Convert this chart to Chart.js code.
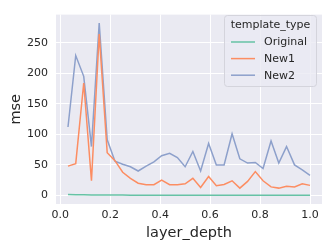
<!DOCTYPE html>
<html>
<head>
<meta charset="utf-8">
<script src="https://cdn.jsdelivr.net/npm/chart.js@4"></script>
<style>
  html, body { margin: 0; padding: 0; background: #fff; }
  #wrap { width: 332px; height: 249px; }
</style>
</head>
<body>
<div id="wrap"><canvas id="myChart" width="332" height="249"></canvas></div>
<script>
// layer depth of each sampled layer
const depth = [0.031, 0.062, 0.094, 0.125, 0.156, 0.188, 0.219, 0.25, 0.281, 0.312, 0.344, 0.375,
    0.406, 0.438, 0.469, 0.5, 0.531, 0.562, 0.594, 0.625, 0.656, 0.688, 0.719, 0.75,
    0.781, 0.812, 0.844, 0.875, 0.906, 0.938, 0.969, 1.0];

const original = [1.4, 1.2, 1.0, 0.9, 0.8, 0.7, 0.6, 0.6, 0.5, 0.5, 0.5, 0.5,
    0.5, 0.5, 0.5, 0.5, 0.5, 0.5, 0.5, 0.5, 0.5, 0.5, 0.5, 0.5,
    0.5, 0.5, 0.5, 0.5, 0.5, 0.5, 0.5, 0.5];
const new1 = [48, 52, 184, 24, 264, 70, 57, 38, 28, 20, 17.5, 17.5,
    25, 17.5, 17.5, 19, 28, 13, 31, 16, 18, 24, 12, 23,
    39, 24, 14, 12, 15, 14, 19, 16.5];
const new2 = [112, 229, 195, 80, 282, 91, 56, 51, 47, 40, 48, 55,
    65, 69, 62, 47, 72, 40, 85, 50, 50, 101, 60, 53,
    54, 44, 89, 53, 80, 50, 42, 33];

const xTicks = [0.0, 0.2, 0.4, 0.6, 0.8, 1.0];
const yTicks = [0, 50, 100, 150, 200, 250];

const font = 'DejaVu Sans';
const textColor = '#262626';

const pts = arr => arr.map((v, i) => ({ x: depth[i], y: v }));

// grey plot background (seaborn darkgrid)
const bgPlugin = {
    id: 'bg',
    beforeDraw(chart) {
        const { ctx, chartArea: a } = chart;
        ctx.save();
        ctx.fillStyle = '#eaeaf2';
        ctx.fillRect(a.left, a.top, a.right - a.left, a.bottom - a.top);
        ctx.restore();
    }
};

// legend box in the top right corner of the plot
const legendPlugin = {
    id: 'boxLegend',
    afterDraw(chart) {
        const ctx = chart.ctx;
        const x0 = 224.5, y0 = 15.5, w = 92, h = 71;
        ctx.save();
        ctx.beginPath();
        ctx.roundRect(x0, y0, w, h, 3);
        ctx.fillStyle = 'rgba(234,234,242,0.8)';
        ctx.fill();
        ctx.strokeStyle = '#d4d4dc';
        ctx.lineWidth = 1;
        ctx.stroke();
        ctx.font = '11px ' + font;
        ctx.fillStyle = textColor;
        ctx.textBaseline = 'middle';
        ctx.textAlign = 'center';
        ctx.fillText('template_type', x0 + w / 2, 25);
        ctx.textAlign = 'left';
        chart.data.datasets.forEach((ds, i) => {
            const y = 42 + i * 16.6;
            ctx.beginPath();
            ctx.moveTo(231, y);
            ctx.lineTo(255, y);
            ctx.strokeStyle = ds.borderColor;
            ctx.lineWidth = 1.5;
            ctx.stroke();
            ctx.fillText(ds.label, 264, y + 0.5);
        });
        ctx.restore();
    }
};

const ctx = document.getElementById('myChart');
const myChart = new Chart(ctx, {
    type: 'line',
    data: {
        datasets: [
            { label: 'Original', data: pts(original), borderColor: '#66c2a5' },
            { label: 'New1', data: pts(new1), borderColor: '#fc8d62' },
            { label: 'New2', data: pts(new2), borderColor: '#8da0cb' }
        ]
    },
    options: {
        responsive: false,
        animation: false,
        layout: { padding: { left: 0, right: 10, top: 10, bottom: 0 } },
        elements: {
            line: { borderWidth: 1.5, tension: 0 },
            point: { radius: 0 }
        },
        plugins: {
            legend: { display: false },
            tooltip: { enabled: false }
        },
        scales: {
            x: {
                type: 'linear',
                min: -0.017,
                max: 1.048,
                afterBuildTicks: s => { s.ticks = xTicks.map(v => ({ value: v })); },
                afterFit: s => { s.height = 45; },
                grid: { color: '#ffffff', lineWidth: 1, drawTicks: false },
                border: { display: false },
                ticks: {
                    padding: 5,
                    color: textColor,
                    font: { family: font, size: 11 },
                    maxRotation: 0,
                    callback: v => v.toFixed(1)
                },
                title: {
                    display: true,
                    text: 'layer_depth',
                    color: textColor,
                    font: { family: font, size: 14.5 },
                    padding: { top: 0, bottom: 7 }
                }
            },
            y: {
                min: -14,
                max: 296,
                afterBuildTicks: s => { s.ticks = yTicks.map(v => ({ value: v })); },
                afterFit: s => { s.width = 56; },
                grid: { color: '#ffffff', lineWidth: 1, drawTicks: false },
                border: { display: false },
                ticks: {
                    padding: 8,
                    color: textColor,
                    font: { family: font, size: 11 }
                },
                title: {
                    display: true,
                    text: 'mse',
                    color: textColor,
                    font: { family: font, size: 14.5 },
                    padding: { top: 8, bottom: 0 }
                }
            }
        }
    },
    plugins: [bgPlugin, legendPlugin]
});
</script>
</body>
</html>
